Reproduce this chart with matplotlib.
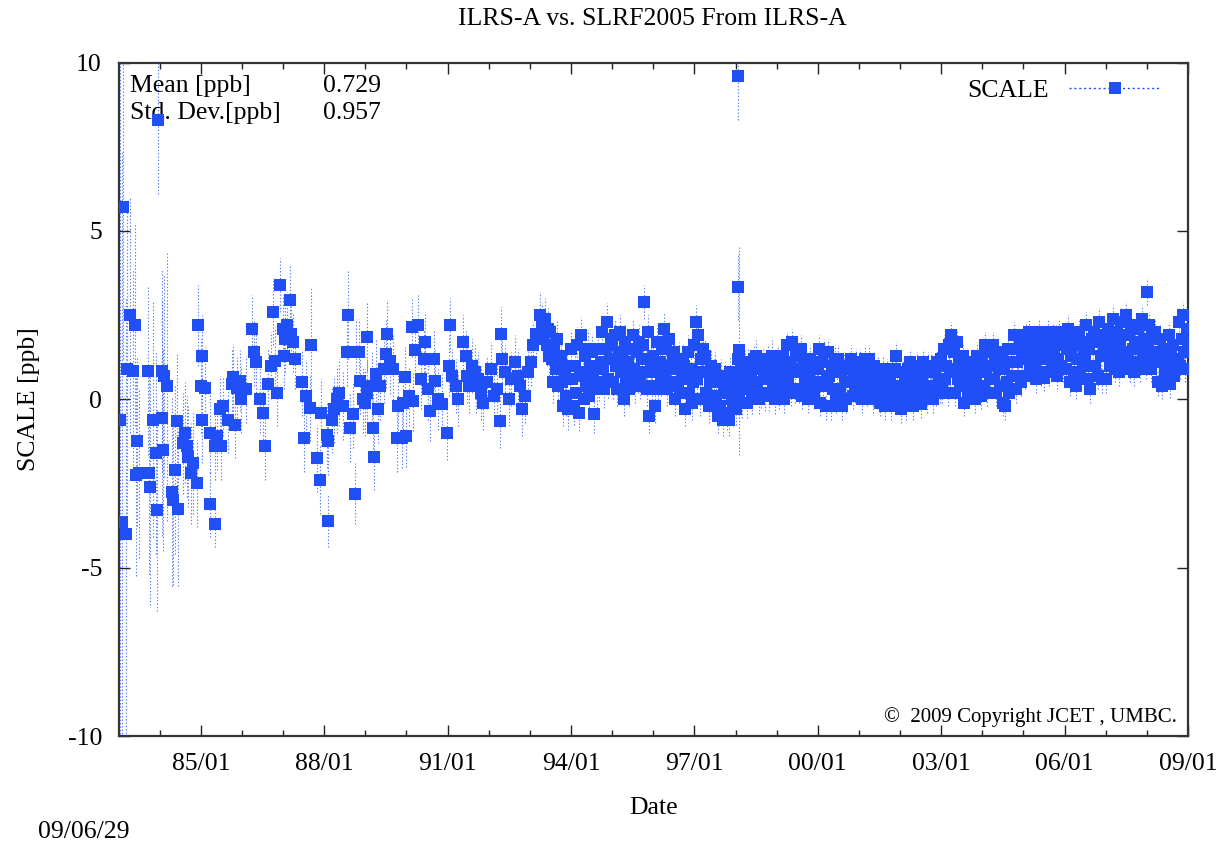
import numpy as np
import matplotlib
matplotlib.use("Agg")
import matplotlib.pyplot as plt
from matplotlib.lines import Line2D

plt.rcParams["font.family"] = ["Liberation Serif", "DejaVu Serif"]
plt.rcParams["axes.unicode_minus"] = False

BLUE = "#1f4ff5"

# sparse early solutions: decimal year, scale [ppb], sigma [ppb]
early_year = [
    1983.03, 1983.08, 1983.12, 1983.18, 1983.20, 1983.28, 1983.35, 1983.40, 1983.42, 1983.46,
    1983.50, 1983.72, 1983.73, 1983.76, 1983.84, 1983.90, 1983.93, 1983.97, 1984.05, 1984.06,
    1984.08, 1984.10, 1984.17, 1984.29, 1984.33, 1984.37, 1984.42, 1984.45, 1984.57, 1984.62,
    1984.66, 1984.70, 1984.75, 1984.80, 1984.90, 1984.92, 1985.00, 1985.02, 1985.04, 1985.10,
    1985.22, 1985.23, 1985.34, 1985.35, 1985.40, 1985.47, 1985.50, 1985.55, 1985.65, 1985.75,
    1985.78, 1985.82, 1985.87, 1985.95, 1985.98, 1986.10, 1986.24, 1986.30, 1986.35, 1986.45,
    1986.52, 1986.55, 1986.63, 1986.70, 1986.76, 1986.80, 1986.84, 1986.92, 1987.00, 1987.03,
    1987.05, 1987.10, 1987.17, 1987.20, 1987.24, 1987.30, 1987.45, 1987.50, 1987.55, 1987.65,
    1987.67, 1987.82, 1987.90, 1987.93, 1988.06, 1988.08, 1988.10, 1988.18, 1988.25, 1988.30,
    1988.35, 1988.45, 1988.55, 1988.58, 1988.63, 1988.70, 1988.75, 1988.78, 1988.85, 1988.88,
    1988.95, 1989.00, 1989.03, 1989.05, 1989.15, 1989.19, 1989.22, 1989.25, 1989.30, 1989.36,
    1989.45, 1989.50, 1989.52, 1989.60, 1989.67, 1989.76, 1989.79, 1989.88, 1989.92, 1989.96,
    1990.00, 1990.05, 1990.13, 1990.17, 1990.20, 1990.29, 1990.35, 1990.43, 1990.45, 1990.53,
    1990.57, 1990.66, 1990.70, 1990.76, 1990.86, 1990.98, 1991.04, 1991.06, 1991.10, 1991.20,
    1991.25, 1991.38, 1991.45, 1991.48, 1991.53, 1991.60, 1991.66, 1991.70, 1991.75, 1991.80,
    1991.85, 1991.95, 1992.05, 1992.12, 1992.20, 1992.27, 1992.30, 1992.33, 1992.40, 1992.50,
    1992.55, 1992.65, 1992.70, 1992.75, 1992.82, 1992.88, 1992.95, 1993.02, 1993.08, 1993.16,
    1993.25, 1993.30, 1993.33,
]
early_scale = [
    -0.6, -3.65, 5.7, -4.0, 0.9, 2.5, 0.85, 2.2, -2.25, -1.25,
    -2.2, 0.85, -2.2, -2.6, -0.6, -1.6, -3.3, 8.3, -0.55, 0.85,
    -1.5, 0.7, 0.4, -2.75, -3.0, -2.1, -0.65, -3.25, -1.3, -1.0,
    -1.4, -1.7, -2.2, -1.9, -2.5, 2.2, 0.4, 1.3, -0.6, 0.35,
    -3.1, -1.0, -3.7, -1.4, -1.1, -0.3, -1.4, -0.2, -0.6, 0.45,
    0.65, -0.75, 0.35, 0.55, 0.0, 0.3, 2.1, 1.4, 1.1, 0.0,
    -0.4, -1.4, 0.45, 1.0, 2.6, 1.15, 0.2, 3.4, 2.1, 1.3,
    1.8, 2.2, 2.95, 1.95, 1.7, 1.2, 0.5, -1.15, 0.1, -0.25,
    1.6, -1.75, -2.4, -0.4, -1.05, -3.6, -1.25, -0.6, -0.3, 0.0,
    0.2, -0.2, 1.4, 2.5, -0.85, -0.45, -2.8, 1.4, 1.4, 0.55,
    0.0, -0.1, 1.85, 0.2, 0.4, -0.85, -1.7, 0.75, -0.3, 0.4,
    0.9, 1.35, 1.95, 1.15, 0.9, -1.15, -0.2, -1.15, -0.1, 0.65,
    -1.1, 0.1, 2.15, -0.05, 1.45, 2.2, 0.6, 1.2, 1.7, 0.3,
    -0.35, 1.2, 0.55, 0.0, -0.15, -1.0, 1.0, 2.2, 0.7, 0.4,
    0.0, 1.7, 1.3, 0.7, 0.4, 1.0, 0.8, 0.4, 0.6, 0.2,
    -0.1, 0.5, 0.9, 0.1, 0.3, -0.65, 1.95, 1.2, 0.8, 0.0,
    0.6, 1.1, 0.7, 0.4, -0.3, 0.1, 0.8, 1.1, 1.6, 1.95,
    2.5, 2.15, 1.8,
]
early_sigma = [
    12.0, 11.0, 4.5, 7.0, 5.0, 3.5, 3.0, 3.0, 3.0, 2.5,
    2.5, 2.5, 3.0, 3.5, 3.5, 3.0, 3.0, 2.2, 3.5, 3.0,
    3.0, 3.0, 4.0, 2.8, 2.5, 2.5, 2.0, 2.3, 1.5, 1.5,
    1.5, 1.5, 1.5, 1.5, 1.3, 1.2, 1.4, 1.2, 1.3, 1.2,
    1.0, 1.2, 0.7, 1.0, 1.0, 1.0, 1.0, 0.9, 1.0, 1.0,
    1.0, 1.0, 0.9, 0.9, 1.0, 1.0, 1.0, 1.0, 1.0, 1.0,
    1.0, 1.0, 1.0, 1.0, 1.0, 1.0, 1.0, 0.8, 1.0, 1.0,
    1.0, 1.0, 1.0, 0.9, 0.9, 0.9, 1.0, 1.0, 1.0, 1.0,
    1.7, 1.0, 1.0, 1.0, 1.0, 0.8, 1.0, 1.0, 1.0, 1.0,
    1.0, 1.0, 1.0, 1.3, 1.0, 1.0, 0.9, 1.0, 1.0, 1.0,
    1.0, 1.0, 1.0, 1.0, 1.0, 1.0, 1.0, 1.0, 1.0, 1.0,
    1.0, 1.0, 1.0, 1.0, 1.0, 1.0, 1.0, 0.9, 0.9, 0.9,
    0.9, 0.9, 0.9, 0.9, 0.9, 0.9, 0.9, 0.9, 0.9, 0.9,
    0.9, 0.9, 0.9, 0.9, 0.9, 0.8, 0.9, 0.8, 0.8, 0.8,
    0.8, 0.8, 0.8, 0.8, 0.8, 0.8, 0.8, 0.8, 0.8, 0.8,
    0.8, 0.8, 0.8, 0.8, 0.8, 0.8, 0.8, 0.8, 0.8, 0.8,
    0.8, 0.8, 0.8, 0.8, 0.8, 0.8, 0.8, 0.7, 0.7, 0.7,
    0.7, 0.7, 0.7,
]

# the 1998 outliers
spike_year = [1998.05, 1998.06, 1998.08]
spike_scale = [9.6, 3.35, 1.45]
spike_sigma = [1.3, 1.0, 3.1]

# dense solutions from mid 1993 on, 32 per year (one row = one quarter)
band_start = 1993.375
band_scale = [
    # 1993
    2.4, 1.6, 2.1, 1.3,
    2.0, 1.2, 0.5, 1.6, 0.9, 1.8, 0.4, 1.1,
    1.3, 0.5, -0.2, 0.8, 0.1, 1.0, -0.3, 0.6,
    # 1994
    1.5, 0.6, -0.2, 1.0, 0.2, 1.6, -0.4, 0.8,
    1.9, 0.7, 0.0, 1.3, 0.4, 1.5, 0.1, 1.0,
    1.4, 0.6, -0.45, 0.9, 0.3, 1.5, 0.5, 1.1,
    2.0, 0.9, 0.3, 1.5, 2.3, 0.6, 1.2, 1.8,
    # 1995
    1.6, 0.5, 1.9, 1.0, 0.3, 1.4, 2.0, 0.8,
    1.3, 0.0, 1.7, 0.6, 1.1, 0.3, 1.5, 0.8,
    1.9, 0.9, 0.4, 1.4, 0.7, 1.7, 0.5, 1.2,
    1.6, 2.9, 0.8, 0.3, 2.0, -0.5, 1.1, 0.4,
    # 1996
    1.3, -0.2, 0.8, 1.7, 0.3, 1.1, 0.6, 1.5,
    2.1, 0.8, 1.5, 0.3, 1.8, 1.0, 0.5, 1.3,
    1.4, 0.0, 0.9, 0.4, 1.2, 0.2, 0.7, 1.1,
    1.0, -0.3, 0.6, 1.4, 0.2, 0.9, -0.1, 0.5,
    # 1997
    1.6, 2.3, 0.6, 1.9, 0.0, 1.2, 0.8, 1.5,
    1.3, 0.2, 0.8, -0.2, 0.5, 1.0, 0.1, 0.7,
    0.9, 0.1, -0.5, 0.5, -0.2, 0.7, -0.6, 0.3,
    0.6, -0.4, 0.2, -0.6, 0.8, 0.0, -0.3, 0.4,
    # 1998
    -0.3, 0.6, 1.2, 0.2, 0.9, -0.1, 0.5, 1.0,
    0.7, -0.1, 1.1, 0.3, 0.8, 0.0, 1.2, 0.5,
    1.3, 0.4, 0.0, 0.9, 0.2, 1.1, 0.6, 0.1,
    0.8, 1.2, 0.1, 0.6, 1.3, 0.3, 0.9, 0.0,
    # 1999
    0.6, 1.2, 0.1, 0.9, 0.4, 1.3, 0.0, 0.7,
    1.6, 0.5, 1.1, 0.2, 1.7, 0.8, 0.3, 1.3,
    1.4, 0.3, 0.9, 1.5, 0.1, 1.0, 0.6, 1.2,
    0.0, 0.7, 1.2, 0.3, 0.9, 0.1, 1.1, 0.5,
    # 2000
    0.9, 1.5, -0.1, 1.1, 0.4, 1.4, -0.2, 0.6,
    1.4, 0.7, -0.2, 1.0, 0.3, 1.2, 0.0, 0.8,
    1.2, 0.3, 0.8, -0.2, 1.0, 0.5, 0.0, 0.9,
    1.0, 0.5, 1.2, 0.1, 0.8, 0.3, 1.1, 0.6,
    # 2001
    0.7, 1.1, 0.0, 0.9, 0.4, 1.2, 0.2, 0.6,
    1.2, 0.3, 0.8, 0.0, 1.0, 0.5, 0.1, 0.9,
    -0.1, 0.6, 0.2, 0.9, -0.2, 0.5, 0.8, 0.1,
    0.5, -0.2, 0.8, 0.2, 0.9, 1.3, 0.4, 0.0,
    # 2002
    0.3, -0.3, 0.8, 0.1, 0.6, -0.2, 0.9, 0.4,
    1.1, 0.3, -0.2, 0.7, 0.1, 1.0, 0.5, 0.2,
    -0.15, 0.6, 1.1, 0.2, 0.8, 0.0, 1.0, 0.4,
    1.0, 0.4, 0.0, 0.8, 0.2, 1.1, 0.6, 0.3,
    # 2003
    1.2, 0.3, 1.5, 0.6, 1.0, 0.2, 1.6, 0.8,
    1.9, 0.9, 1.4, 0.2, 1.7, 0.6, 1.1, 0.4,
    0.8, 1.3, -0.1, 0.7, 1.1, 0.2, 0.9, 0.4,
    0.3, 1.1, 0.0, 0.6, 1.3, 0.4, 0.9, 0.1,
    # 2004
    1.2, 0.4, 1.6, 0.8, 0.2, 1.4, 0.6, 1.0,
    1.6, 0.6, 1.1, 0.2, 1.4, 0.9, 0.4, 1.2,
    -0.1, 0.9, -0.2, 0.5, 1.5, 0.2, 1.1, 0.7,
    1.5, 1.9, 0.3, 1.1, 0.7, 1.6, 0.5, 1.3,
    # 2005
    1.6, 0.7, 1.9, 1.2, 2.0, 0.9, 1.5, 1.1,
    1.8, 1.0, 0.6, 1.4, 2.0, 1.2, 0.8, 1.6,
    0.64, 1.7, 1.3, 2.0, 0.8, 1.5, 1.0, 1.9,
    1.4, 1.8, 0.7, 1.2, 2.0, 1.0, 1.6, 0.9,
    # 2006
    1.9, 0.9, 1.5, 2.1, 0.5, 1.3, 1.8, 0.8,
    1.6, 0.4, 1.2, 2.0, 0.7, 1.7, 1.0, 1.4,
    1.2, 2.2, 0.6, 1.5, 0.3, 1.8, 1.0, 2.0,
    1.0, 1.7, 0.7, 2.3, 1.3, 0.6, 1.9, 1.5,
    # 2007
    0.6, 1.6, 2.1, 1.0, 1.8, 1.3, 2.4, 0.9,
    1.5, 2.0, 0.8, 1.7, 2.3, 1.1, 1.4, 1.9,
    2.5, 1.2, 1.9, 0.9, 2.2, 1.5, 0.8, 1.7,
    1.1, 2.1, 1.6, 0.9, 2.4, 1.3, 1.8, 1.0,
    # 2008
    3.2, 1.6, 2.2, 0.9, 1.9, 1.3, 2.0, 1.1,
    1.4, 0.5, 1.8, 1.1, 0.4, 1.5, 0.8, 1.2,
    0.9, 1.9, 0.44, 1.3, 1.6, 0.7, 1.2, 1.0,
    1.2, 2.3, 1.0, 1.8, 2.5, 1.4, 0.9, 2.1,
    # 2009
    1.7,
]
band_sigma_by_year = [0.6, 0.55, 0.5, 0.5, 0.5, 0.45, 0.4, 0.4, 0.4, 0.4, 0.4,
                      0.4, 0.4, 0.4, 0.4, 0.4, 0.4]

mean_ppb = "0.729"
std_ppb = "0.957"
tick_years = [1985, 1988, 1991, 1994, 1997, 2000, 2003, 2006, 2009]

band_year = band_start + np.arange(len(band_scale)) / 32.0
band_sigma = np.array(band_sigma_by_year)[band_year.astype(int) - 1993]

x = np.concatenate([early_year, band_year, spike_year])
y = np.concatenate([early_scale, band_scale, spike_scale])
e = np.concatenate([early_sigma, band_sigma, spike_sigma])

fig = plt.figure(figsize=(12.26, 8.46), dpi=100)
ax = fig.add_axes([0.0967, 0.130, 0.8723, 0.796])

eb = ax.errorbar(x, y, yerr=e, fmt="s", ms=8.2, mew=0, color=BLUE,
                 ecolor=BLUE, elinewidth=0.8, capsize=2.5, capthick=0.7, zorder=3)
eb[2][0].set_linestyle((0, (1.2, 1.8)))
eb[2][0].set_alpha(0.75)
for cap in eb[1]:
    cap.set_alpha(0.75)

ax.set_xlim(1983.0, 2009.0)
ax.set_ylim(-10, 10)
ax.set_xticks(tick_years)
ax.set_xticklabels([f"{t % 100:02d}/01" for t in tick_years])
ax.set_xticks(np.arange(1984, 2009), minor=True)
ax.set_yticks([-10, -5, 0, 5, 10])
ax.tick_params(which="both", direction="in", top=True, right=True,
               labelsize=18.5, width=1.0, color="#222222")
ax.tick_params(which="major", length=8, pad=12)
ax.tick_params(which="minor", length=4)
ax.tick_params(axis="y", which="minor", left=False, right=False)
for s in ax.spines.values():
    s.set_linewidth(1.6)
    s.set_color("#333333")

ax.set_xlabel("Date", fontsize=18.5, labelpad=16)
ax.set_ylabel("SCALE [ppb]", fontsize=18.5, labelpad=20)
fig.text(0.532, 0.978, "ILRS-A vs. SLRF2005 From ILRS-A", ha="center", va="center", fontsize=18.5)
fig.text(0.031, 0.017, "09/06/29", ha="left", va="center", fontsize=18.5)

ax.text(0.011, 0.965, "Mean [ppb]", transform=ax.transAxes, fontsize=18.5, va="center")
ax.text(0.191, 0.965, mean_ppb, transform=ax.transAxes, fontsize=18.5, va="center")
ax.text(0.011, 0.925, "Std. Dev.[ppb]", transform=ax.transAxes, fontsize=18.5, va="center")
ax.text(0.191, 0.925, std_ppb, transform=ax.transAxes, fontsize=18.5, va="center")
ax.text(0.990, 0.028, "\u00a9  2009 Copyright JCET , UMBC.", transform=ax.transAxes,
        fontsize=15, ha="right", va="center")

handle = Line2D([], [], color=BLUE, ls=(0, (1.5, 2)), lw=1.0, marker="s", ms=8.2, mew=0)
ax.legend([handle], ["SCALE"], loc="upper right", bbox_to_anchor=(0.992, 1.003),
          frameon=False, markerfirst=False, handlelength=3.6, fontsize=18.5,
          borderaxespad=0.3)

fig.savefig("out.png", dpi=100)
